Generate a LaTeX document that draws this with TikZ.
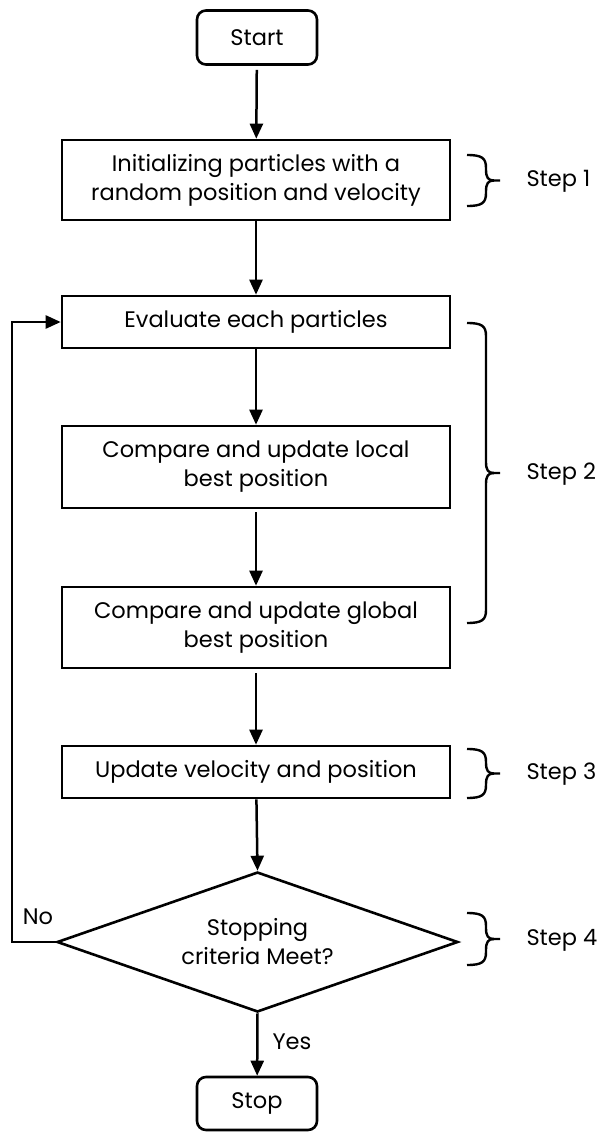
\documentclass[tikz,border=0pt]{standalone}
\usepackage{fontspec}
\setmainfont{Poppins}
\usetikzlibrary{arrows.meta,shapes.geometric}
\newcommand{\stepbrace}[4]{%
  % #1 x0, #2 top y, #3 bottom y, #4 label
  \pgfmathsetmacro{\ym}{(#2+#3)/2}
  \draw[bracestyle] (#1,#2) .. controls (#1+15,#2) and (#1+19,#2+3) .. (#1+19,#2+13)
     -- (#1+19,\ym-11) .. controls (#1+19,\ym-3) and (#1+21,\ym) .. (#1+27,\ym) -- (#1+33,\ym);
  \draw[bracestyle] (#1,#3) .. controls (#1+15,#3) and (#1+19,#3-3) .. (#1+19,#3-13)
     -- (#1+19,\ym+11) .. controls (#1+19,\ym+3) and (#1+21,\ym) .. (#1+27,\ym);
  \node[steplabel] at (#1+56,\ym+1) {#4};
}
\begin{document}
\begin{tikzpicture}[x=1pt,y=-1pt,
  every node/.style={font=\fontsize{22.5}{29}\selectfont, text=black},
  procbox/.style={draw, line width=2.6pt, minimum width=388pt, inner sep=0pt, align=center},
  termbox/.style={draw, line width=2.6pt, rounded corners=9pt, minimum width=120pt, minimum height=54pt, inner sep=0pt},
  decbox/.style={draw, diamond, line width=2.6pt, aspect=2.86, minimum width=401pt, minimum height=140pt, inner sep=0pt, align=center},
  flow/.style={line width=2.5pt, -{Triangle[length=15pt,width=13pt]}},
  bracestyle/.style={line width=2.4pt},
  steplabel/.style={anchor=west},
  lbl/.style={inner sep=0pt}
]
\useasboundingbox (0,0) rectangle (597,1132);
\fill[white] (0,0) rectangle (597,1132);

\node[termbox] (start) at (257,37.5) {Start};
\node[procbox, minimum height=80pt] (init) at (256,180) {Initializing particles with a\\random position and velocity};
\node[procbox, minimum height=52pt] (eval) at (256,322) {Evaluate each particles};
\node[procbox, minimum height=82pt] (local) at (256,467) {Compare and update local\\best position};
\node[procbox, minimum height=81pt] (global) at (256,627.5) {Compare and update global\\best position};
\node[procbox, minimum height=52pt] (update) at (256,772) {Update velocity and position};
\node[decbox] (dec) at (257.5,942) {Stopping\\criteria Meet?};
\node[termbox, minimum height=53pt] (stop) at (257,1103.5) {Stop};

\draw[flow, shorten <=4pt] (start) -- (init);
\draw[flow] (init) -- (eval);
\draw[flow] (eval) -- (local);
\draw[flow, shorten <=3pt] (local) -- (global);
\draw[flow, shorten <=4pt] (global) -- (update);
\draw[flow] (update) -- (dec.north);
\draw[flow] (dec.south) -- node[lbl, right=14pt, pos=0.45] (yes) {Yes} (stop);
\coordinate (loopc) at (12,942);
\draw[flow] (dec.west) -- (loopc) |- (eval.west);
\node[lbl] (no) at (38,917) {No};

\stepbrace{467}{155}{206}{Step 1}
\stepbrace{467}{323}{623}{Step 2}
\stepbrace{467}{749}{798}{Step 3}
\stepbrace{467}{913}{965}{Step 4}
\end{tikzpicture}
\end{document}
